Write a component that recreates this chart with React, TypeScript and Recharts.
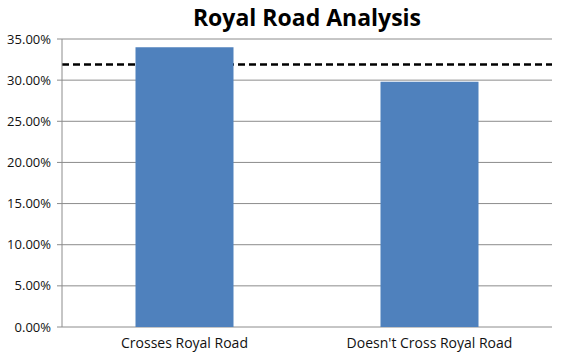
import { BarChart, Bar, XAxis, YAxis, CartesianGrid, ReferenceLine } from 'recharts';

const categories = ['Crosses Royal Road', "Doesn't Cross Royal Road"];
const shares = [0.34, 0.298];
const average = 0.319;
const yTicks = [0, 0.05, 0.1, 0.15, 0.2, 0.25, 0.3, 0.35];
const edgeTicks = [0, 1, 2];

const data = categories.map((name, i) => ({ name, share: shares[i] }));

const font = '"Open Sans", sans-serif';

export default function App() {
    return (
        <div style={{ position: 'absolute', left: 0, top: 0, width: 565, height: 358, background: '#fff', fontFamily: font }}>
            <div style={{ position: 'absolute', left: 62, width: 490, top: 1, textAlign: 'center', fontSize: 23, fontWeight: 700, color: '#000' }}>
                Royal Road Analysis
            </div>
            <BarChart
                width={565}
                height={358}
                data={data}
                margin={{ top: 39, right: 13, left: 0, bottom: 0 }}
                barCategoryGap="30%"
            >
                <CartesianGrid vertical={false} stroke="#8c8c8c" />
                <XAxis
                    xAxisId="edges"
                    type="number"
                    domain={[0, 2]}
                    ticks={edgeTicks}
                    tick={false}
                    height={0}
                    stroke="#8c8c8c"
                    tickSize={5}
                />
                <XAxis
                    dataKey="name"
                    height={31}
                    axisLine={false}
                    tickLine={false}
                    tickMargin={5}
                    tick={{ fontSize: 14, fill: '#111', fontFamily: font }}
                />
                <YAxis
                    width={62}
                    domain={[0, 0.35]}
                    ticks={yTicks}
                    tickFormatter={(v: number) => `${(v * 100).toFixed(2)}%`}
                    tick={{ fontSize: 13, fill: '#111', fontFamily: font }}
                    stroke="#8c8c8c"
                    tickSize={5}
                    tickMargin={6}
                    interval={0}
                />
                <ReferenceLine y={average} stroke="#000" strokeWidth={2.5} strokeDasharray="7 4" zIndex={50} />
                <Bar dataKey="share" fill="#4f81bd" isAnimationActive={false} zIndex={400} />
            </BarChart>
        </div>
    );
}
